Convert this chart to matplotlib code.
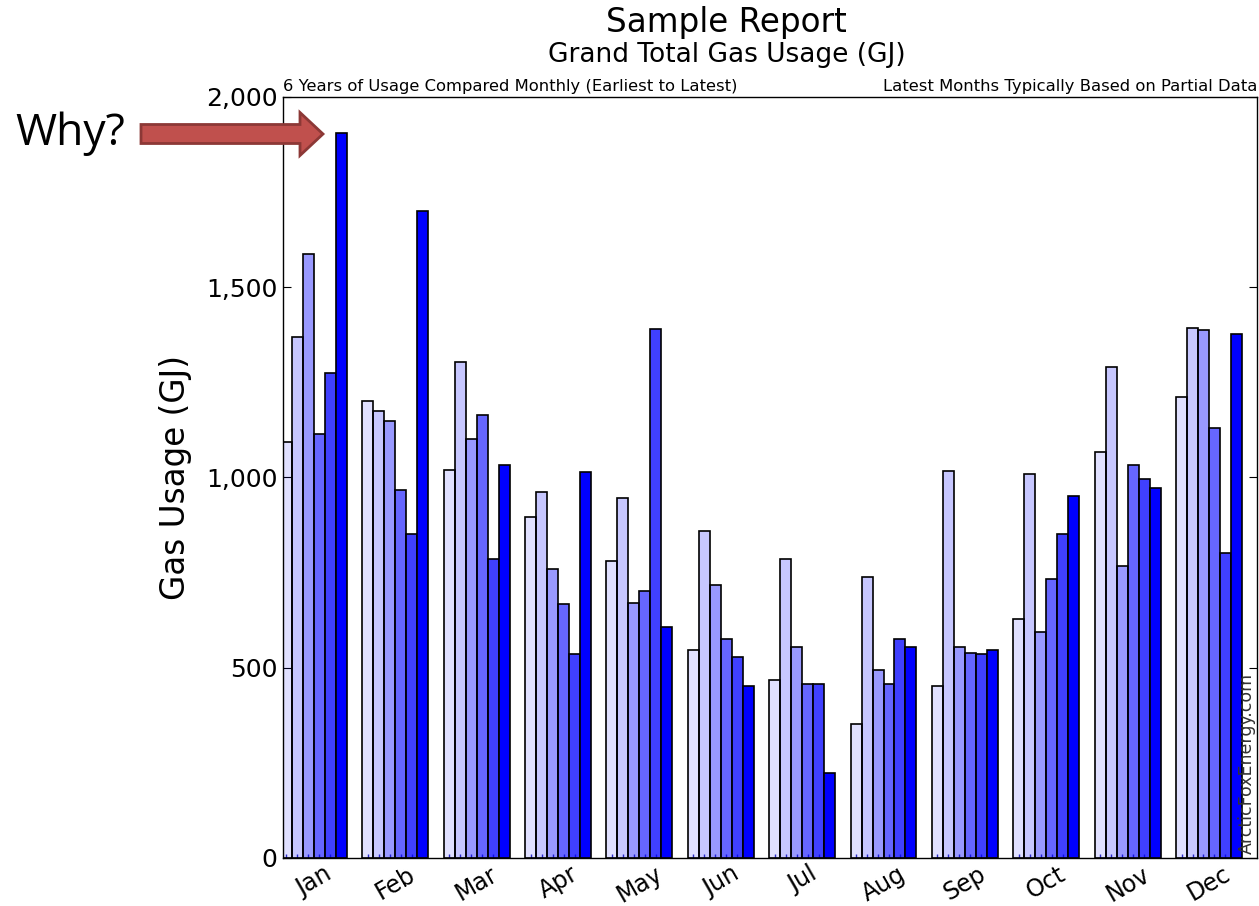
"""Sample Report: grand total gas usage, 6 years compared monthly"""

import matplotlib
matplotlib.use("Agg")
import matplotlib.pyplot as plt
from matplotlib.patches import FancyArrow
from matplotlib.ticker import FuncFormatter
import numpy as np

months = ["Jan", "Feb", "Mar", "Apr", "May", "Jun",
          "Jul", "Aug", "Sep", "Oct", "Nov", "Dec"]

# usage per year (earliest -> latest), GJ
year1 = [1093, 1200, 1020, 895, 780, 547, 468, 352, 452, 628, 1066, 1211]
year2 = [1368, 1175, 1304, 961, 945, 858, 786, 738, 1018, 1009, 1289, 1393]
year3 = [1586, 1149, 1102, 760, 669, 717, 555, 494, 555, 593, 768, 1388]
year4 = [1113, 967, 1165, 668, 702, 576, 456, 456, 540, 732, 1034, 1129]
year5 = [1274, 851, 786, 536, 1389, 529, 456, 576, 535, 851, 997, 801]
year6 = [1905, 1700, 1034, 1014, 608, 452, 223, 555, 547, 950, 972, 1378]
years = [year1, year2, year3, year4, year5, year6]
year_alpha = [0.12, 0.22, 0.40, 0.60, 0.75, 1.0]

fig = plt.figure(figsize=(12.59, 9.06), dpi=100)
ax = fig.add_axes([0.2248, 0.053, 0.7736, 0.840])

bar_w = 0.135
x = np.arange(len(months))
for k, vals in enumerate(years):
    ax.bar(x + k * bar_w, vals, width=bar_w, align="edge",
           facecolor=(0, 0, 1, year_alpha[k]), edgecolor="black", linewidth=1.2)

ax.set_xlim(0.025, 11.995)
ax.set_ylim(0, 2000)
ax.set_axisbelow(True)

# month labels at group centres, small ticks under every bar
ax.set_xticks(x + 3 * bar_w)
ax.set_xticklabels(months, rotation=30, fontsize=17)
ax.tick_params(axis="x", which="major", length=0, pad=3)
ax.set_xticks(np.concatenate([x + (k + 0.5) * bar_w for k in range(6)]), minor=True)
ax.tick_params(axis="x", which="minor", direction="in", length=3, width=1, colors="#3030c0")

ax.set_yticks([0, 500, 1000, 1500, 2000])
ax.yaxis.set_major_formatter(FuncFormatter(lambda v, _: f"{int(v):,}"))
ax.tick_params(axis="y", direction="in", length=6, labelsize=18, right=True, pad=4)
ax.set_ylabel("Gas Usage (GJ)", fontsize=23.5, labelpad=10)
for s in ax.spines.values():
    s.set_linewidth(1.0)

fig.text(0.577, 0.975, "Sample Report", ha="center", va="center", fontsize=23.5)
fig.text(0.577, 0.939, "Grand Total Gas Usage (GJ)", ha="center", va="center", fontsize=19)
ax.text(0.0, 1.004, "6 Years of Usage Compared Monthly (Earliest to Latest)",
        transform=ax.transAxes, ha="left", va="bottom", fontsize=11.8)
ax.text(1.0, 1.004, "Latest Months Typically Based on Partial Data",
        transform=ax.transAxes, ha="right", va="bottom", fontsize=11.8)
ax.text(0.999, 0.005, "ArcticFoxEnergy.com", transform=ax.transAxes,
        rotation=90, ha="right", va="bottom", fontsize=12.5, color="#333333")

# callout
fig.text(0.012, 0.852, "Why?", ha="left", va="center", fontsize=32, family="Open Sans")
fig.patches.append(FancyArrow(1.41, 7.72, 1.82, 0, width=0.19, head_width=0.43,
                              head_length=0.23, length_includes_head=True,
                              facecolor="#C0504D", edgecolor="#8C3836", linewidth=2,
                              transform=fig.dpi_scale_trans, figure=fig))

fig.savefig("out.png", dpi=100)
